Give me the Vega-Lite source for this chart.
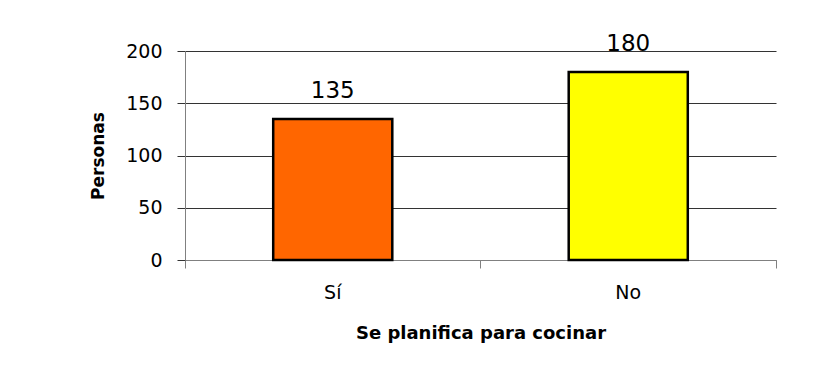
{
  "$schema": "https://vega.github.io/schema/vega-lite/v6.json",
  "width": 591,
  "height": 209,
  "autosize": {"type": "none"},
  "padding": {"left": 185, "top": 51, "right": 54, "bottom": 127},
  "background": "white",
  "config": {
    "view": {"stroke": null},
    "font": "DejaVu Sans"
  },
  "data": {
    "values": [
      {"respuesta": "Sí", "personas": 135},
      {"respuesta": "No", "personas": 180}
    ]
  },
  "encoding": {
    "x": {
      "field": "respuesta",
      "type": "nominal",
      "sort": ["Sí", "No"],
      "scale": {"paddingInner": 0, "paddingOuter": 0},
      "axis": {
        "title": "Se planifica para cocinar",
        "labelAngle": 0,
        "bandPosition": 1,
        "tickExtra": true,
        "tickSize": 8,
        "tickColor": "#808080",
        "domainColor": "#808080",
        "labelFontSize": 19,
        "labelColor": "#000000",
        "labelPadding": 15,
        "titleFontSize": 18,
        "titleFontWeight": "bold",
        "titleColor": "#000000",
        "titlePadding": 22,
        "grid": false
      }
    },
    "y": {
      "field": "personas",
      "type": "quantitative",
      "scale": {"domain": [0, 200]},
      "axis": {
        "title": "Personas",
        "values": [0, 50, 100, 150, 200],
        "grid": true,
        "gridColor": "#333333",
        "gridOpacity": 1,
        "tickSize": 8,
        "tickColor": "#333333",
        "domainColor": "#808080",
        "labelFontSize": 19,
        "labelColor": "#000000",
        "labelPadding": 15,
        "titleFontSize": 17,
        "titleFontWeight": "bold",
        "titleColor": "#000000",
        "titlePadding": 18
      }
    }
  },
  "layer": [
    {
      "mark": {"type": "bar", "width": {"band": 0.403}, "stroke": "#000000", "strokeWidth": 2.5},
      "encoding": {
        "color": {
          "field": "respuesta",
          "type": "nominal",
          "scale": {"domain": ["Sí", "No"], "range": ["#FF6600", "#FFFF00"]},
          "legend": null
        }
      }
    },
    {
      "mark": {"type": "text", "baseline": "alphabetic", "dy": -21, "fontSize": 23, "color": "#000000"},
      "encoding": {
        "text": {"field": "personas", "type": "quantitative"}
      }
    }
  ]
}
